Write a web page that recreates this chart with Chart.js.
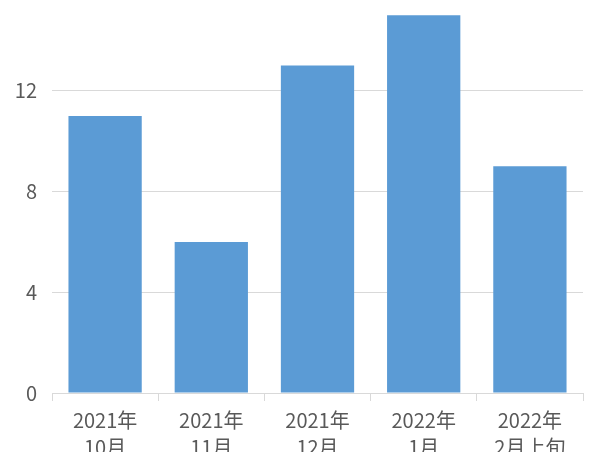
<!DOCTYPE html>
<html>
<head>
<meta charset="utf-8">
<script src="https://cdn.jsdelivr.net/npm/chart.js@4"></script>
<style>
  html, body { margin: 0; padding: 0; background: #fff; overflow: hidden; width: 600px; height: 452px; }
  #wrap { position: absolute; left: 0; top: -37px; width: 600px; height: 510px; }
</style>
</head>
<body>
<div id="wrap"><canvas id="chart"></canvas></div>
<script>
// categories (two-line labels) and counts
const categories = [
  ['2021年', '10月'],
  ['2021年', '11月'],
  ['2021年', '12月'],
  ['2022年', '1月'],
  ['2022年', '2月上旬']
];
const counts = [11, 6, 13, 15, 9];
const yTicks = [0, 4, 8, 12, 16];

const textColor = '#595959';
const gridColor = '#d9d9d9';
const font = { family: "'Noto Sans CJK SC', 'Noto Sans', sans-serif", size: 20 };

new Chart(document.getElementById('chart'), {
  type: 'bar',
  data: {
    labels: categories,
    datasets: [{
      data: counts,
      backgroundColor: '#5b9bd5',
      borderWidth: 0,
      barPercentage: 1,
      categoryPercentage: 0.69
    }]
  },
  options: {
    responsive: true,
    maintainAspectRatio: false,
    animation: false,
    layout: { padding: { top: 20, right: 17, left: 0, bottom: 0 } },
    plugins: { legend: { display: false }, tooltip: { enabled: false } },
    scales: {
      x: {
        grid: { drawOnChartArea: false, drawTicks: true, tickLength: 8, color: gridColor, offset: true },
        border: { color: gridColor, width: 1 },
        ticks: { color: textColor, font: { ...font, lineHeight: 1.35 }, padding: 6, maxRotation: 0, autoSkip: false },
        afterFit: s => { s.height = 80; }
      },
      y: {
        min: 0,
        max: 16,
        afterBuildTicks: s => { s.ticks = yTicks.map(v => ({ value: v })); },
        grid: { color: gridColor, drawTicks: false },
        border: { display: false },
        ticks: { color: textColor, font: font, padding: 15 },
        afterFit: s => { s.width = 52; }
      }
    }
  }
});
</script>
</body>
</html>
